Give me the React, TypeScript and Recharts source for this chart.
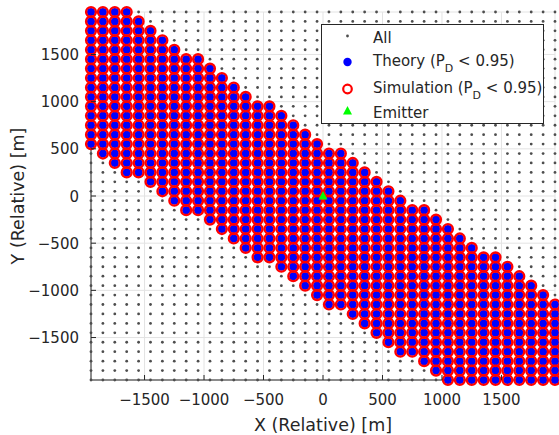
import {
  ScatterChart,
  Scatter,
  XAxis,
  YAxis,
  CartesianGrid,
  Legend,
  Label,
} from 'recharts'

// grid of candidate positions [m]
const gridCoords = [
  -1950, -1850, -1750, -1650, -1550, -1450, -1350, -1250, -1150, -1050,
  -950, -850, -750, -650, -550, -450, -350, -250, -150, -50,
  50, 150, 250, 350, 450, 550, 650, 750, 850, 950,
  1050, 1150, 1250, 1350, 1450, 1550, 1650, 1750, 1850, 1950,
]

// rows from top (y = 1950) to bottom (y = -1950)
const rowY = [
  1950, 1850, 1750, 1650, 1550, 1450, 1350, 1250, 1150, 1050,
  950, 850, 750, 650, 550, 450, 350, 250, 150, 50,
  -50, -150, -250, -350, -450, -550, -650, -750, -850, -950,
  -1050, -1150, -1250, -1350, -1450, -1550, -1650, -1750, -1850, -1950,
]

// P_D < 0.95 band: first and last x covered in each row
const bandMinX = [
  -1950, -1950, -1950, -1950, -1950, -1950, -1950, -1950, -1950, -1950,
  -1950, -1950, -1950, -1950, -1950, -1850, -1750, -1650, -1450, -1350,
  -1250, -1150, -950, -850, -750, -650, -550, -350, -250, -150,
  -50, 50, 250, 350, 450, 550, 650, 850, 950, 1050,
]
const bandMaxX = [
  -1650, -1550, -1450, -1350, -1250, -1050, -950, -850, -750, -650,
  -450, -350, -250, -150, -50, 150, 250, 350, 450, 550,
  650, 850, 950, 1050, 1150, 1250, 1450, 1550, 1650, 1750,
  1850, 1950, 1950, 1950, 1950, 1950, 1950, 1950, 1950, 1950,
]

const emitterX = [0]
const emitterY = [0]

const axisTicks = [-1500, -1000, -500, 0, 500, 1000, 1500]

const allPoints = rowY.flatMap((y) => gridCoords.map((x) => ({ x, y })))
const bandPoints = rowY.flatMap((y, j) =>
  gridCoords.filter((x) => x >= bandMinX[j] && x <= bandMaxX[j]).map((x) => ({ x, y }))
)
const emitter = emitterX.map((x, i) => ({ x, y: emitterY[i] }))

const FONT = '"DejaVu Sans", sans-serif'
const INK = '#262626'

const fmt = (v: number) => (v < 0 ? '\u2212' + Math.abs(v) : String(v))

const BottomTick = ({ x, y, payload }: any) => (
  <g>
    <line x1={x} x2={x} y1={y} y2={y - 5} stroke={INK} />
    <text x={x} y={y + 25} textAnchor="middle" fill={INK} fontSize={15} fontFamily={FONT}>
      {fmt(payload.value)}
    </text>
  </g>
)

const TopTick = ({ x, y }: any) => <line x1={x} x2={x} y1={y} y2={y + 5} stroke={INK} />

const LeftTick = ({ x, y, payload }: any) => (
  <g>
    <line x1={x} x2={x + 5} y1={y} y2={y} stroke={INK} />
    <text x={x - 12} y={y + 5.5} textAnchor="end" fill={INK} fontSize={15} fontFamily={FONT}>
      {fmt(payload.value)}
    </text>
  </g>
)

const RightTick = ({ x, y }: any) => <line x1={x} x2={x - 5} y1={y} y2={y} stroke={INK} />

const triangle = (cx: number, cy: number) =>
  `${cx},${cy - 5} ${cx - 4.5},${cy + 3.5} ${cx + 4.5},${cy + 3.5}`

function LegendBox() {
  const tx = 51
  return (
    <div style={{ width: 221, height: 98, background: '#fff', border: `1px solid ${INK}` }}>
      <svg width={221} height={98} style={{ display: 'block' }}>
        <g fontFamily={FONT} fontSize={15} fill={INK}>
          <circle cx={25.5} cy={11} r={1.4} fill="#4d4d4d" />
          <text x={tx} y={18}>All</text>

          <circle cx={25.5} cy={37} r={4.2} fill="#0000ff" />
          <text x={tx} y={41}>
            Theory (P<tspan fontSize={11} dy={6}>D</tspan>
            <tspan dy={-6}> &lt; 0.95)</tspan>
          </text>

          <circle cx={25.5} cy={64} r={4.3} fill="none" stroke="#ff0000" strokeWidth={2.2} />
          <text x={tx} y={67.5}>
            Simulation (P<tspan fontSize={11} dy={6}>D</tspan>
            <tspan dy={-6}> &lt; 0.95)</tspan>
          </text>

          <polygon points={triangle(25.5, 86)} fill="#00ff00" />
          <text x={tx} y={92.5}>Emitter</text>
        </g>
      </svg>
    </div>
  )
}

export default function App() {
  return (
    <div style={{ position: 'absolute', left: 0, top: 0, width: 559, height: 435, background: '#fff' }}>
      <ScatterChart width={559} height={435} margin={{ top: 12, right: 4, bottom: 0, left: 0 }}>
        <CartesianGrid stroke="#e3e3e3" />
        <XAxis
          type="number"
          dataKey="x"
          domain={[-1950, 1950]}
          ticks={axisTicks}
          interval={0}
          height={55}
          tickSize={0}
          tickMargin={0}
          tickLine={false}
          stroke={INK}
          tick={<BottomTick />}
        >
          <Label
            content={({ viewBox }: any) => (
              <text
                x={viewBox.x + viewBox.width / 2}
                y={viewBox.y + 51}
                textAnchor="middle"
                fill={INK}
                fontSize={17.5}
                fontFamily={FONT}
              >
                X (Relative) [m]
              </text>
            )}
          />
        </XAxis>
        <XAxis
          xAxisId="top"
          orientation="top"
          type="number"
          dataKey="x"
          domain={[-1950, 1950]}
          ticks={axisTicks}
          interval={0}
          height={0}
          tickSize={0}
          tickMargin={0}
          tickLine={false}
          stroke={INK}
          tick={<TopTick />}
        />
        <YAxis
          type="number"
          dataKey="y"
          domain={[-1950, 1950]}
          ticks={axisTicks}
          interval={0}
          width={91}
          tickSize={0}
          tickMargin={0}
          tickLine={false}
          stroke={INK}
          tick={<LeftTick />}
        >
          <Label
            content={({ viewBox }: any) => {
              const cx = viewBox.x + 18
              const cy = viewBox.y + viewBox.height / 2
              return (
                <text
                  x={cx}
                  y={cy}
                  transform={`rotate(-90 ${cx} ${cy})`}
                  textAnchor="middle"
                  dominantBaseline="central"
                  fill={INK}
                  fontSize={17.5}
                  fontFamily={FONT}
                >
                  Y (Relative) [m]
                </text>
              )
            }}
          />
        </YAxis>
        <YAxis
          yAxisId="right"
          orientation="right"
          type="number"
          dataKey="y"
          domain={[-1950, 1950]}
          ticks={axisTicks}
          interval={0}
          width={0}
          tickSize={0}
          tickMargin={0}
          tickLine={false}
          stroke={INK}
          tick={<RightTick />}
        />
        <Scatter
          name="All"
          data={allPoints}
          isAnimationActive={false}
          shape={(p: any) => <circle cx={p.cx} cy={p.cy} r={1.4} fill="#4d4d4d" />}
        />
        <Scatter
          name="Theory"
          data={bandPoints}
          isAnimationActive={false}
          shape={(p: any) => <circle cx={p.cx} cy={p.cy} r={4} fill="#0000ff" />}
        />
        <Scatter
          name="Simulation"
          data={bandPoints}
          isAnimationActive={false}
          shape={(p: any) => (
            <circle cx={p.cx} cy={p.cy} r={4.9} fill="none" stroke="#ff0000" strokeWidth={2.4} />
          )}
        />
        <Scatter
          name="Emitter"
          data={emitter}
          isAnimationActive={false}
          shape={(p: any) => <polygon points={triangle(p.cx, p.cy)} fill="#00ff00" />}
        />
        <Legend
          layout="vertical"
          align="center"
          verticalAlign="middle"
          wrapperStyle={{ position: 'absolute', left: 321, top: 24, width: 223, height: 100 }}
          content={() => <LegendBox />}
        />
      </ScatterChart>
    </div>
  )
}
